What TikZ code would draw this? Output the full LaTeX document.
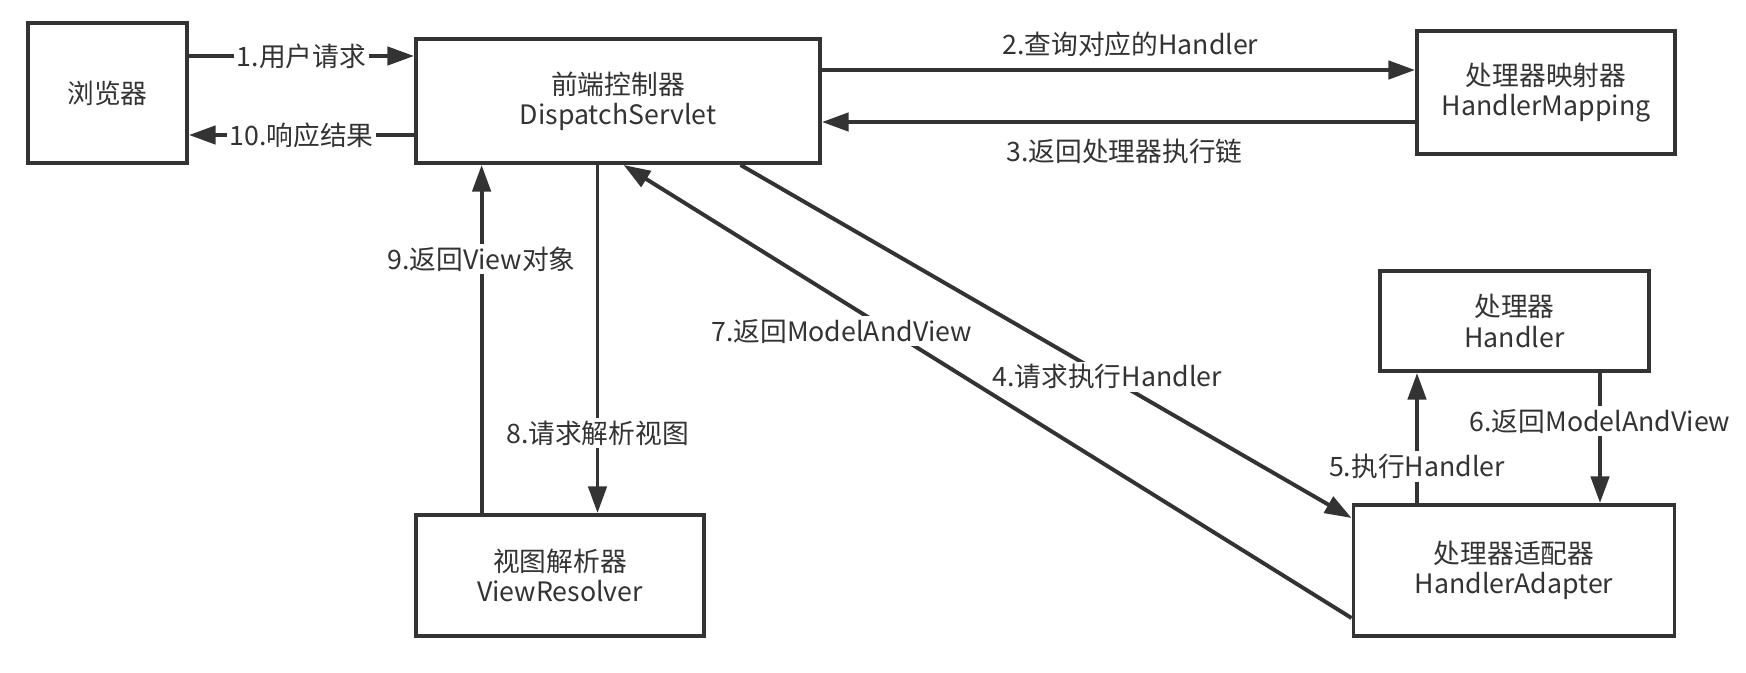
\documentclass[tikz,border=0pt]{standalone}
\usepackage{fontspec}
\setmainfont{Noto Sans CJK SC}
\usepackage{tikz}
\usetikzlibrary{arrows.meta,calc}
\definecolor{linegray}{HTML}{333333}
\newcommand{\linecolor}{linegray}
\newcommand{\thickness}{2.8pt}
\newcommand{\px}{0.025cm}
\tikzset{
  box/.style={draw=\linecolor, line width=\thickness, rectangle, align=center, text=\linecolor, font=\fontsize{19pt}{21.5pt}\selectfont},
  flow/.style={draw=\linecolor, line width=\thickness, -{Triangle[length=19pt,width=13pt]}},
  tag/.style={fill=white, inner sep=2pt, text=\linecolor, font=\fontsize{19pt}{21.5pt}\selectfont}
}

\begin{document}
\begin{tikzpicture}[x=\px, y=-\px]
\useasboundingbox (0,0) rectangle (1746,672);
\node[box] (1) at (107.5, 93) [minimum width=159*\px, minimum height=140*\px] {浏览器};
\node[box] (2) at (618, 101) [minimum width=404*\px, minimum height=124*\px] {前端控制器\\DispatchServlet};
\node[box] (3) at (1546, 92.5) [minimum width=258*\px, minimum height=123*\px] {处理器映射器\\HandlerMapping};
\node[box] (4) at (1514.5, 321) [minimum width=269*\px, minimum height=100*\px] {处理器\\Handler};
\node[box] (5) at (1514, 570.5) [minimum width=321*\px, minimum height=131*\px] {处理器适配器\\HandlerAdapter};
\node[box] (6) at (560, 575.5) [minimum width=288*\px, minimum height=121*\px] {视图解析器\\ViewResolver};
%1-2
\draw[flow] (1.east |- 0,56) -- node[tag] {1.用户请求} (2.west |- 0,56);
\draw[flow] (2.west |- 0,135) -- node[tag] {10.响应结果} (1.east |- 0,135);
%2-3
\draw[flow] (2.east |- 0,70) -- node[tag, above=6pt, pos=0.52] {2.查询对应的Handler} (3.west |- 0,70);
\draw[flow] (3.west |- 0,122) -- node[tag, below=9pt, pos=0.49] {3.返回处理器执行链} (2.east |- 0,122);
%2-6
\draw[flow] (6.north -| 481.6,0) -- node[tag, pos=0.73] {9.返回View对象} (2.south -| 481.6,0);
\draw[flow] (2.south -| 597.5,0) -- node[tag, pos=0.77] {8.请求解析视图} (6.north -| 597.5,0);
%2-5
\draw[flow] (2.south -| 740.5,0) -- node[tag, pos=0.6] {4.请求执行Handler} (5.west |- 0,518);
\draw[flow] (5.west |- 0,618) -- node[tag, pos=0.633, xshift=-49*\px] {7.返回ModelAndView} (2.south -| 623.6,0);
%5-4
\draw[flow] (5.north -| 1417,0) -- node[tag, pos=0.28] {5.执行Handler} (4.south -| 1417,0);
\draw[flow] (4.south -| 1600,0) -- node[tag, pos=0.37] {6.返回ModelAndView} (5.north -| 1600,0);
\end{tikzpicture}
\end{document}
